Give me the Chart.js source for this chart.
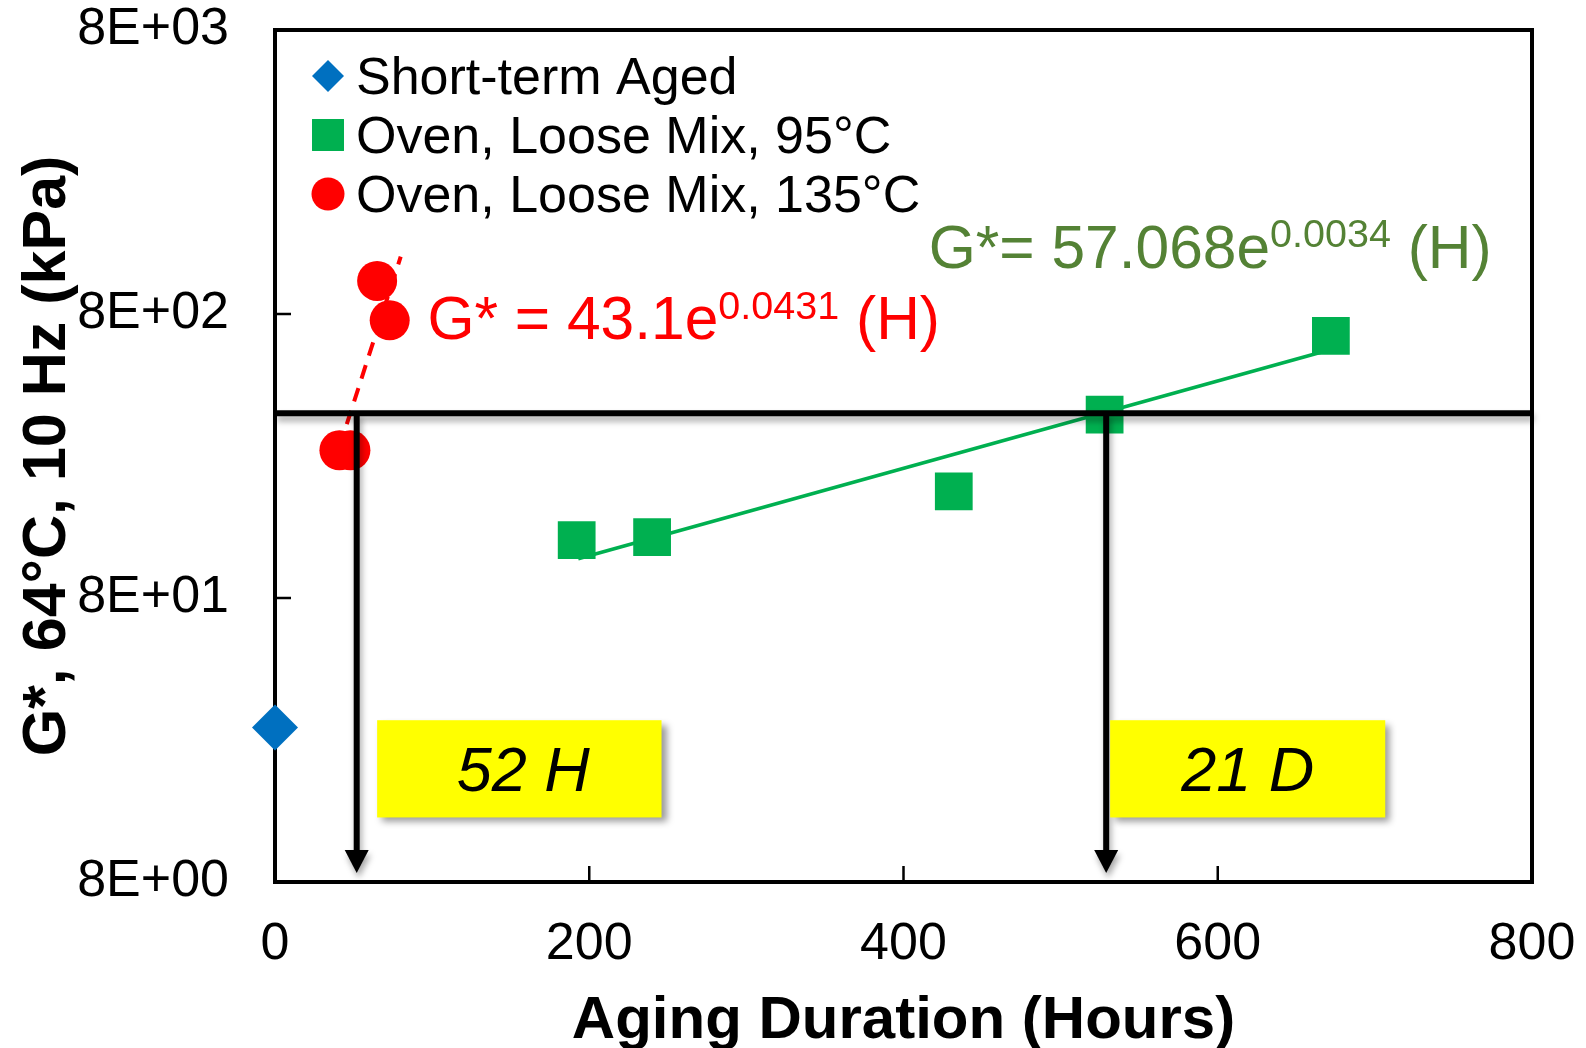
<!DOCTYPE html>
<html>
<head>
<meta charset="utf-8">
<script src="https://cdn.jsdelivr.net/npm/chart.js@4.4.1/dist/chart.umd.min.js"></script>
<style>
  html, body { margin: 0; padding: 0; background: #fff; }
  #wrap { width: 1586px; height: 1048px; }
</style>
</head>
<body>
<div id="wrap"><canvas id="agingChart" width="1586" height="1048"></canvas></div>
<script>
const FONT = "'Liberation Sans', Arial, sans-serif";

// G* (kPa) at 64°C, 10 Hz against aging time in hours
const shortTermHours = [0];
const shortTermG = [28];
const oven95Hours = [192, 240, 432, 528, 672];
const oven95G = [128, 131, 190, 354, 670];
const oven135Hours = [41, 48, 65, 73];
const oven135G = [265, 265, 1046, 760];

// trend line end points
const fit95Hours = [193, 672];
const fit95G = [110, 600];
const fit135Hours = [41, 80];
const fit135G = [272, 1273];

const seriesNames = ['Short-term Aged', 'Oven, Loose Mix, 95°C', 'Oven, Loose Mix, 135°C'];
const criterionG = 358;
const crossingHours = [52, 529];
const crossingLabels = ['52 H', '21 D'];

const xTicks = [0, 200, 400, 600, 800];
const yTicks = [8, 80, 800, 8000];
const yTickLabels = ['8E+00', '8E+01', '8E+02', '8E+03'];

function toPoints(xs, ys) {
	return xs.map((x, i) => ({ x: x, y: ys[i] }));
}

// frame + inward tick marks
const framePlugin = {
	id: 'frame',
	beforeDatasetsDraw(chart) {
		const { ctx, chartArea: a, scales: { x, y } } = chart;
		ctx.save();
		ctx.strokeStyle = '#000';
		ctx.lineWidth = 2.5;
		ctx.beginPath();
		xTicks.forEach(v => {
			const px = x.getPixelForValue(v);
			ctx.moveTo(px, a.bottom);
			ctx.lineTo(px, a.bottom - 16);
		});
		yTicks.forEach(v => {
			const py = y.getPixelForValue(v);
			ctx.moveTo(a.left, py);
			ctx.lineTo(a.left + 16, py);
		});
		ctx.stroke();
		ctx.lineWidth = 4;
		ctx.strokeRect(a.left, a.top, a.right - a.left, a.bottom - a.top);
		ctx.restore();
	}
};

const annotationPlugin = {
	id: 'annotations',
	afterDatasetsDraw(chart, args, opts) {
		const { ctx, chartArea: a, scales: { x, y } } = chart;
		ctx.save();
		const yc = y.getPixelForValue(criterionG);

		ctx.shadowColor = 'rgba(0,0,0,0.35)';
		ctx.shadowBlur = 6;
		ctx.shadowOffsetX = 2;
		ctx.shadowOffsetY = 5;
		ctx.strokeStyle = '#000';
		ctx.fillStyle = '#000';
		ctx.lineWidth = 6;
		ctx.beginPath();
		ctx.moveTo(a.left, yc);
		ctx.lineTo(a.right, yc);
		ctx.stroke();

		crossingHours.forEach(h => {
			const px = x.getPixelForValue(h);
			const tip = a.bottom - 9;
			ctx.beginPath();
			ctx.moveTo(px, yc);
			ctx.lineTo(px, tip - 20);
			ctx.stroke();
			ctx.beginPath();
			ctx.moveTo(px - 12, tip - 23);
			ctx.lineTo(px + 12, tip - 23);
			ctx.lineTo(px, tip);
			ctx.closePath();
			ctx.fill();
		});

		// yellow call-out boxes
		opts.boxes.forEach((b, i) => {
			const x0 = x.getPixelForValue(b.from), x1 = x.getPixelForValue(b.to);
			const y0 = y.getPixelForValue(b.high), y1 = y.getPixelForValue(b.low);
			ctx.shadowColor = 'rgba(0,0,0,0.4)';
			ctx.shadowBlur = 7;
			ctx.shadowOffsetX = 5;
			ctx.shadowOffsetY = 5;
			ctx.fillStyle = '#FFFF00';
			ctx.fillRect(x0, y0, x1 - x0, y1 - y0);
			ctx.shadowColor = 'transparent';
			ctx.fillStyle = '#000';
			ctx.font = 'italic 63px ' + FONT;
			ctx.textAlign = 'center';
			ctx.textBaseline = 'alphabetic';
			ctx.fillText(crossingLabels[i], (x0 + x1) / 2 + b.shift, (y0 + y1) / 2 + 22);
		});

		// fit equations
		ctx.shadowColor = 'transparent';
		ctx.textAlign = 'left';
		opts.equations.forEach(eq => {
			let px = x.getPixelForValue(eq.x);
			const py = y.getPixelForValue(eq.y);
			ctx.fillStyle = eq.color;
			ctx.font = eq.size + 'px ' + FONT;
			ctx.fillText(eq.parts[0], px, py);
			px += ctx.measureText(eq.parts[0]).width;
			ctx.font = eq.supSize + 'px ' + FONT;
			ctx.fillText(eq.parts[1], px, py - eq.rise);
			px += ctx.measureText(eq.parts[1]).width;
			ctx.font = eq.size + 'px ' + FONT;
			ctx.fillText(eq.parts[2], px, py);
		});
		ctx.restore();
	}
};

const legendPlugin = {
	id: 'boxLegend',
	afterDraw(chart, args, opts) {
		const { ctx, chartArea: a } = chart;
		ctx.save();
		ctx.font = opts.size + 'px ' + FONT;
		ctx.textBaseline = 'alphabetic';
		ctx.textAlign = 'left';
		chart.data.datasets.filter(ds => !ds.trend).forEach((ds, i) => {
			const cy = a.top + opts.top + i * opts.rowGap;
			const cx = a.left + opts.left;
			ctx.fillStyle = ds.backgroundColor;
			ctx.strokeStyle = ds.backgroundColor;
			Chart.helpers.drawPoint(ctx, {
				pointStyle: ds.pointStyle,
				radius: opts.radius[i],
				rotation: 0,
				borderWidth: 0
			}, cx, cy);
			ctx.fillStyle = '#000';
			ctx.fillText(ds.label, cx + 28, cy + 18);
		});
		ctx.restore();
	}
};

const ctx = document.getElementById('agingChart').getContext('2d');
const agingChart = new Chart(ctx, {
	type: 'scatter',
	data: {
		datasets: [
			{
				label: seriesNames[0],
				data: toPoints(shortTermHours, shortTermG),
				pointStyle: 'rectRot',
				pointRadius: 23,
				backgroundColor: '#0070C0',
				borderColor: '#0070C0',
				borderWidth: 0,
				clip: false
			},
			{
				label: seriesNames[1],
				data: toPoints(oven95Hours, oven95G),
				pointStyle: 'rect',
				pointRadius: 26.7,
				backgroundColor: '#00B050',
				borderColor: '#00B050',
				borderWidth: 0,
				clip: false
			},
			{
				label: seriesNames[2],
				data: toPoints(oven135Hours, oven135G),
				pointStyle: 'circle',
				pointRadius: 20,
				backgroundColor: '#FF0000',
				borderColor: '#FF0000',
				borderWidth: 0,
				clip: false
			},
			{
				label: 'fit 95',
				trend: true,
				type: 'line',
				data: toPoints(fit95Hours, fit95G),
				borderColor: '#00B050',
				borderWidth: 3.5,
				pointRadius: 0,
				fill: false
			},
			{
				label: 'fit 135',
				trend: true,
				type: 'line',
				data: toPoints(fit135Hours, fit135G),
				borderColor: '#FF0000',
				borderWidth: 4,
				borderDash: [14, 10],
				pointRadius: 0,
				fill: false
			}
		]
	},
	options: {
		responsive: false,
		animation: false,
		events: [],
		layout: { padding: { top: 30, right: 54, left: 0, bottom: 0 } },
		scales: {
			x: {
				type: 'linear',
				min: 0,
				max: 800,
				afterFit: s => {
					s.height = 166;
					s.paddingLeft = 0;
					s.paddingRight = 0;
				},
				afterBuildTicks: s => { s.ticks = xTicks.map(v => ({ value: v })); },
				grid: { display: false, drawTicks: false },
				border: { display: false },
				ticks: {
					color: '#000',
					padding: 37,
					maxRotation: 0,
					font: { family: FONT, size: 52, lineHeight: 1 }
				},
				title: {
					display: true,
					text: 'Aging Duration (Hours)',
					color: '#000',
					padding: { top: 0, bottom: -3 },
					font: { family: FONT, size: 60, weight: 'bold', lineHeight: 1 }
				}
			},
			y: {
				type: 'logarithmic',
				min: 8,
				max: 8000,
				afterFit: s => {
					s.width = 275;
					s.paddingTop = 0;
					s.paddingBottom = 0;
				},
				afterBuildTicks: s => { s.ticks = yTicks.map(v => ({ value: v })); },
				grid: { display: false, drawTicks: false },
				border: { display: false },
				ticks: {
					color: '#000',
					padding: 46,
					font: { family: FONT, size: 52, lineHeight: 1 },
					callback: (v, i) => yTickLabels[i]
				},
				title: {
					display: true,
					text: 'G*, 64°C, 10 Hz (kPa)',
					color: '#000',
					padding: { top: 18, bottom: 0 },
					font: { family: FONT, size: 61, weight: 'bold', lineHeight: 1 }
				}
			}
		},
		plugins: {
			legend: { display: false },
			tooltip: { enabled: false },
			boxLegend: { size: 52, top: 46, left: 53, rowGap: 59, radius: [16, 22.6, 16.5] },
			annotations: {
				boxes: [
					{ from: 65, to: 246, low: 13.5, high: 29.7, shift: 4 },
					{ from: 531.5, to: 706.6, low: 13.5, high: 29.7, shift: 0 }
				],
				equations: [
					{ x: 97, y: 655, color: '#FF0000', size: 60.5, supSize: 39.5, rise: 20, parts: ['G* = 43.1e', '0.0431', ' (H)'] },
					{ x: 416, y: 1162, color: '#548235', size: 60.5, supSize: 39.5, rise: 21, parts: ['G*= 57.068e', '0.0034', ' (H)'] }
				]
			}
		}
	},
	plugins: [framePlugin, annotationPlugin, legendPlugin]
});
</script>
</body>
</html>
